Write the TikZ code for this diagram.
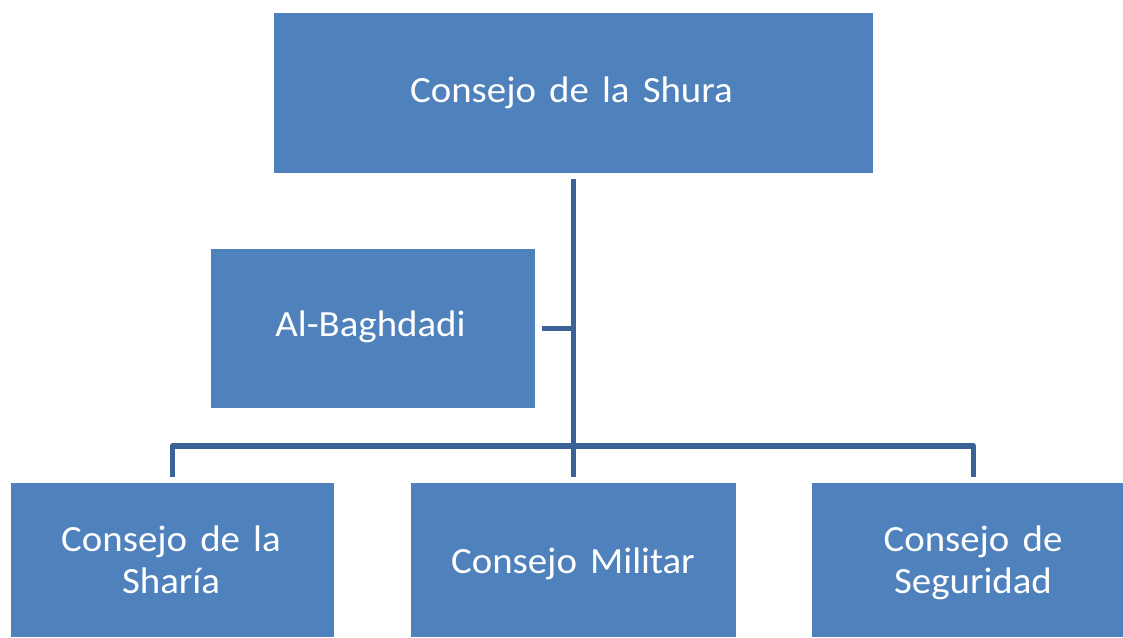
\documentclass[tikz,border=0pt]{standalone}
\usepackage{fontspec}
\setmainfont{Carlito}[FakeStretch=1.05, WordSpace=1.5]
\definecolor{boxfill}{HTML}{4F81BD}
\definecolor{linecol}{HTML}{3A6296}
\begin{document}
\begin{tikzpicture}[x=1pt,y=1pt,
  orgbox/.style={fill=boxfill, draw=none, inner sep=0pt},
  lbl/.style={text=white, inner sep=0pt, anchor=base,
    font=\fontsize{37}{41.5}\selectfont, align=center},
  conn/.style={draw=linecol, line width=5.5pt, line join=round, line cap=butt}]
\useasboundingbox (0,0) rectangle (1123,637);
\begin{scope}
\clip (0,0) rectangle (1123,637);
\node[orgbox, minimum width=599pt, minimum height=160pt] (top) at (573.5,544) {};
\node[orgbox, minimum width=324pt, minimum height=159pt] (ab) at (373,308.5) {};
\node[orgbox, minimum width=323pt, minimum height=154pt] (left) at (172.5,77) {};
\node[orgbox, minimum width=325pt, minimum height=154pt] (mid) at (573.5,77) {};
\node[orgbox, minimum width=323pt, minimum height=154pt] (right) at (973.5,77) {};
\end{scope}
\node[lbl] (ttop) at (571.5,534.3) {Consejo de la Shura};
\node[lbl] (tab) at (370.5,300.3) {Al-Baghdadi};
\node[lbl] (tleft) at (171,44) {Consejo de la\\Sharía};
\node[lbl] (tmid) at (573,64) {Consejo Militar};
\node[lbl] (tright) at (973,44) {Consejo de\\Seguridad};
\coordinate (hb) at (573.5,191);
\draw[conn, shorten <=6pt, shorten >=6pt] (top.south) -- (mid.north);
\draw[conn, shorten <=6pt, shorten >=6pt] (left.north) -- (left.north |- hb) -- (right.north |- hb) -- (right.north);
\draw[conn, shorten <=7pt] (ab.east) -- (ab.east -| top.south);
\end{tikzpicture}
\end{document}
